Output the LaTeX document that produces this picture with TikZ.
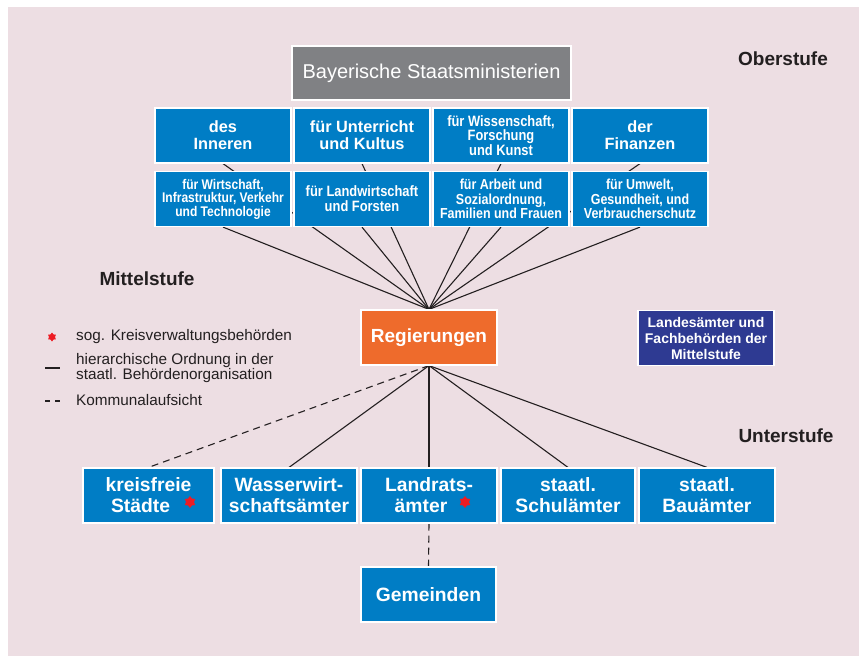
\documentclass[tikz,border=0pt]{standalone}
\usepackage{fontspec}
\setmainfont{Liberation Sans}
\newfontfamily\cond[FakeStretch=0.86]{Liberation Sans}
\usetikzlibrary{shapes.geometric,backgrounds}
\definecolor{bgpink}{HTML}{EDDEE3}
\definecolor{boxblue}{HTML}{007DC5}
\definecolor{regorange}{HTML}{EE6B2C}
\definecolor{mingray}{HTML}{808184}
\definecolor{darkblue}{HTML}{2E3A92}
\definecolor{inkdark}{HTML}{231F20}
\definecolor{starred}{HTML}{ED1C24}
\pgfdeclarelayer{lines}
\pgfsetlayers{background,lines,main}
\begin{document}
\begin{tikzpicture}[x=1pt,y=-1pt,
  box/.style={draw=white, line width=1.2pt, fill=boxblue, text=white,
    minimum width=136pt, minimum height=55pt, inner sep=0pt, align=center},
  upbox/.style={box, font=\bfseries\fontsize{16.3}{17}\selectfont},
  lowbox/.style={box, font=\cond\bfseries\fontsize{14}{13.5}\selectfont},
  botbox/.style={box, font=\bfseries\fontsize{19.3}{21}\selectfont},
  stage/.style={text=inkdark, font=\bfseries\fontsize{19}{20}\selectfont, inner sep=0pt},
  legend/.style={text=inkdark, font=\fontsize{15.3}{13}\selectfont, inner sep=0pt, align=left, anchor=west},
  conn/.style={draw=inkdark, line width=1.1pt},
  dashconn/.style={conn, dash pattern=on 7pt off 5pt},
  redstar/.style={star, star points=6, star point ratio=1.5, fill=starred, inner sep=0pt, minimum size=12pt}
]
\useasboundingbox (0,0) rectangle (859,656);
\begin{pgfonlayer}{background}
  \fill[white] (0,0) rectangle (859,656);
  \fill[bgpink] (8,7) rectangle (859,656);
\end{pgfonlayer}

% top
\node[box, fill=mingray, minimum width=279pt, minimum height=54pt,
  font=\fontsize{20}{22}\selectfont] (bay) at (431.5,73) {Bayerische Staatsministerien};

% upper row of ministries
\node[upbox] (u1) at (223,135.5) {des\\Inneren};
\node[upbox] (u2) at (362,135.5) {für Unterricht\\und Kultus};
\node[box, font=\cond\bfseries\fontsize{15}{14.5}\selectfont] (u3) at (501,135.5) {für Wissenschaft,\\Forschung\\und Kunst};
\node[upbox] (u4) at (640,135.5) {der\\Finanzen};

% lower row of ministries
\node[lowbox] (l1) at (223,199) {für Wirtschaft,\\Infrastruktur, Verkehr\\und Technologie};
\node[box, font=\cond\bfseries\fontsize{15}{15}\selectfont] (l2) at (362,199) {für Landwirtschaft\\und Forsten};
\node[box, font=\cond\bfseries\fontsize{14.5}{14.5}\selectfont] (l3) at (501,199) {für Arbeit und\\Sozialordnung,\\Familien und Frauen};
\node[box, font=\cond\bfseries\fontsize{14.5}{14.5}\selectfont] (l4) at (640,199) {für Umwelt,\\Gesundheit, und\\Verbraucherschutz};

% middle
\node[box, fill=regorange, font=\bfseries\fontsize{19}{20}\selectfont] (reg) at (429,337.5) {Regierungen};
\node[box, fill=darkblue, font=\bfseries\fontsize{14}{16}\selectfont] (land) at (706,338) {Landesämter und\\Fachbehörden der\\Mittelstufe};

% bottom row
\node[botbox, minimum width=131pt] (kf) at (148.5,495.5) {kreisfreie\\Städte\hspace*{16pt}};
\node[botbox] (ww) at (289,495.5) {Wasserwirt-\\schaftsämter};
\node[botbox] (lr) at (429,495.5) {Landrats-\\ämter\hspace*{16pt}};
\node[botbox, minimum width=134pt] (su) at (568,495.5) {staatl.\\Schulämter};
\node[botbox] (ba) at (707,495.5) {staatl.\\Bauämter};
\node[botbox, minimum width=135pt] (gem) at (428.5,594.5) {Gemeinden};

% stars
\node[redstar] (st1) at (190,502) {};
\node[redstar] (st2) at (465,502) {};

% stage labels
\node[stage] (ober) at (783,59) {Oberstufe};
\node[stage] (mittel) at (147,279) {Mittelstufe};
\node[stage] (unter) at (786,436) {Unterstufe};

% legend
\node[redstar, minimum size=9pt] (lst) at (52,337) {};
\node[legend] (lg1) at (76,337) {sog. Kreisverwaltungsbehörden};
\coordinate (lla) at (45,368);
\coordinate (llb) at (60,368);
\draw[conn] (lla) -- (llb);
\node[legend] (lg2) at (76,368) {hierarchische Ordnung in der\\staatl. Behördenorganisation};
\coordinate (lda) at (45,401);
\coordinate (ldb) at (62,401);
\draw[conn, dash pattern=on 5pt off 5pt] (lda) -- (ldb);
\node[legend] (lg3) at (76,400) {Kommunalaufsicht};

% connectors
\begin{pgfonlayer}{lines}
  \foreach \n in {u1,u2,u3,u4,l1,l2,l3,l4}
    \draw[conn] (\n.south) -- (reg.north);
  \draw[dashconn] (reg.south) -- (kf.north);
  \foreach \n in {ww,lr,su,ba}
    \draw[conn] (reg.south) -- (\n.north);
  \draw[dashconn] (lr.south) -- (gem.north);
\end{pgfonlayer}
\end{tikzpicture}
\end{document}
